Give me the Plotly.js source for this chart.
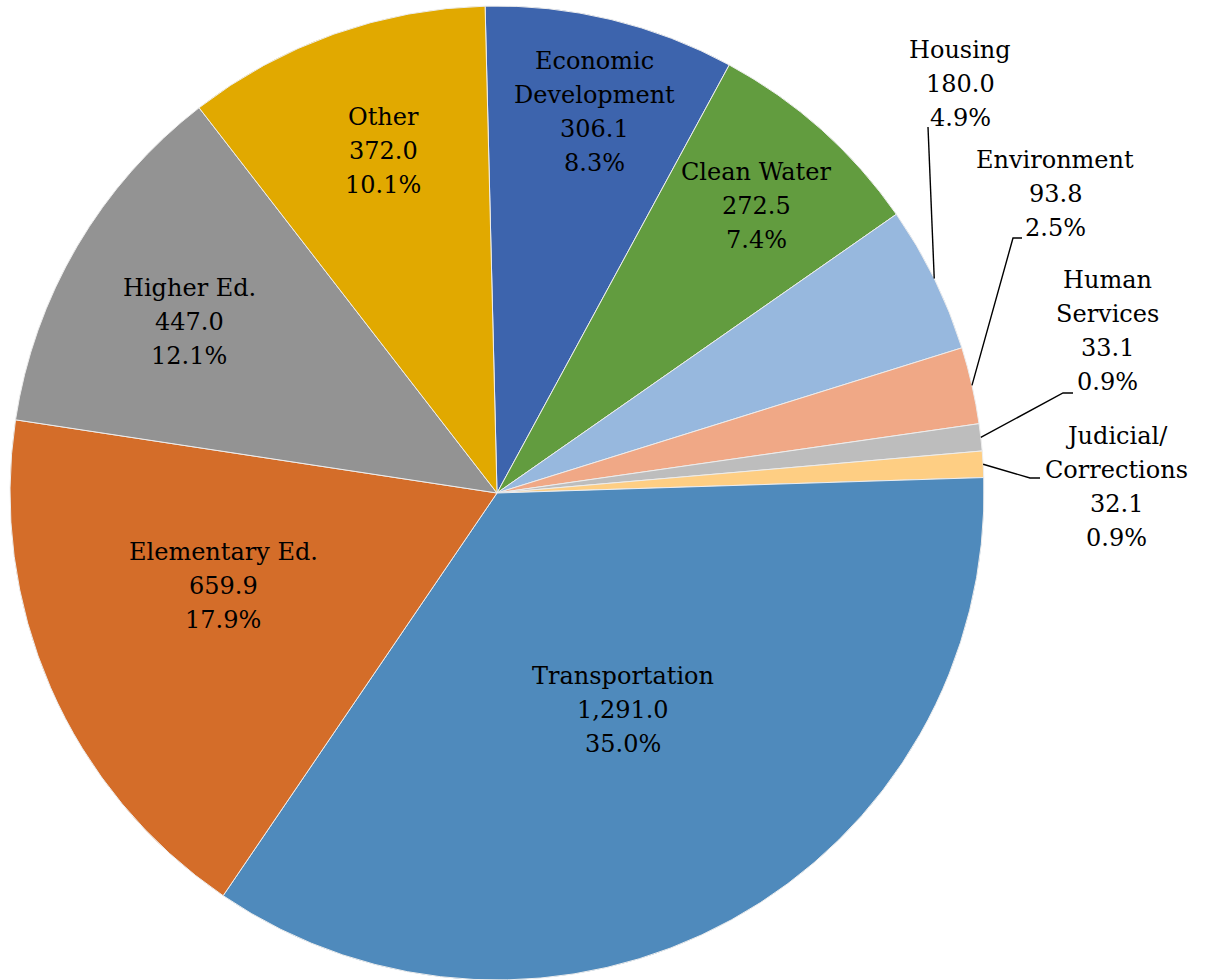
<!DOCTYPE html>
<html>
<head>
<meta charset="utf-8">
<script src="https://cdn.plot.ly/plotly-3.0.1.min.js"></script>
<style>
  html, body { margin: 0; padding: 0; background: #ffffff; }
  #chart { width: 1207px; height: 980px; }
</style>
</head>
<body>
<div id="chart"></div>
<script>
// ---- data ----
const categories = ["Economic Development", "Clean Water", "Housing", "Environment",
  "Human Services", "Judicial/Corrections", "Transportation", "Elementary Ed.",
  "Higher Ed.", "Other"];
const labelNames = [["Economic", "Development"], ["Clean Water"], ["Housing"], ["Environment"],
  ["Human", "Services"], ["Judicial/", "Corrections"], ["Transportation"], ["Elementary Ed."],
  ["Higher Ed."], ["Other"]];
const values = [306.1, 272.5, 180.0, 93.8, 33.1, 32.1, 1291.0, 659.9, 447.0, 372.0];
const colors = ["#3D64AD", "#629C3F", "#97B8DE", "#F0A886", "#BDBDBD", "#FECE83",
  "#4F8ABC", "#D46D29", "#939393", "#E1A900"];

// ---- layout / style ----
const W = 1207, H = 980;
const margin = {l: 0, r: 0, t: 6, b: 0};
const plotW = W - margin.l - margin.r, plotH = H - margin.t - margin.b;
const pieDomainX = [0, 994 / plotW];
const rotation = -1.4;
const R = Math.min(pieDomainX[1] * plotW, plotH) / 2;
const CX = margin.l + pieDomainX[1] * plotW / 2, CY = margin.t + plotH / 2;
const lineGap = 34;
const fontFamily = "DejaVu Serif";
const fontSize = 24;

// label block centres (pixels) and leader elbows for outside labels
const labelCenter = [[594, 112], [756, 206], [960, 84], [1055, 194], [1107, 331],
  [1116, 487], [623, 710], [223, 586], [189, 322], [383, 151]];
const leader = [null, null, [[928, 127]], [[1013, 238], [1022, 238]],
  [[1063, 393], [1073, 393]], [[1030, 478], [1040, 478]], null, null, null, null];

const total = values.reduce((a, b) => a + b, 0);
const fmt = v => v.toLocaleString('en-US', {minimumFractionDigits: 1, maximumFractionDigits: 1});
const px = (x, y) => [(x - margin.l) / plotW, (H - margin.b - y) / plotH];

const annotations = [];
const shapes = [];
let cum = 0;
values.forEach((v, i) => {
  const mid = (cum + v / 2) / total * 360 + rotation;
  cum += v;
  const lines = labelNames[i].concat([fmt(v), (v / total * 100).toFixed(1) + '%']);
  const [cx, cy] = labelCenter[i];
  lines.forEach((t, k) => {
    const y = cy + (k - (lines.length - 1) / 2) * lineGap;
    const p = px(cx, y);
    annotations.push({
      x: p[0], y: p[1], xref: 'paper', yref: 'paper', text: t, showarrow: false,
      xanchor: 'center', yanchor: 'middle',
      font: {family: fontFamily, size: fontSize, color: '#000000'}
    });
  });
  if (leader[i]) {
    const a = mid * Math.PI / 180;
    const ex = CX + R * Math.sin(a), ey = CY - R * Math.cos(a);
    const pts = [[ex, ey]].concat(leader[i]).map(q => px(q[0], q[1]));
    const path = pts.map((q, k) => (k ? 'L' : 'M') + q[0] + ',' + q[1]).join(' ');
    shapes.push({type: 'path', xref: 'paper', yref: 'paper', path: path,
      line: {color: '#000000', width: 1.4}});
  }
});

const trace = {
  type: 'pie',
  labels: categories,
  values: values,
  sort: false,
  direction: 'clockwise',
  rotation: rotation,
  textinfo: 'none',
  marker: {colors: colors, line: {color: '#EDEDED', width: 1}},
  domain: {x: pieDomainX, y: [0, 1]},
  showlegend: false
};

const layout = {
  width: W, height: H,
  margin: margin,
  paper_bgcolor: '#ffffff',
  plot_bgcolor: '#ffffff',
  showlegend: false,
  font: {family: fontFamily},
  annotations: annotations,
  shapes: shapes
};

Plotly.newPlot('chart', [trace], layout, {displayModeBar: false, staticPlot: true});
</script>
</body>
</html>
